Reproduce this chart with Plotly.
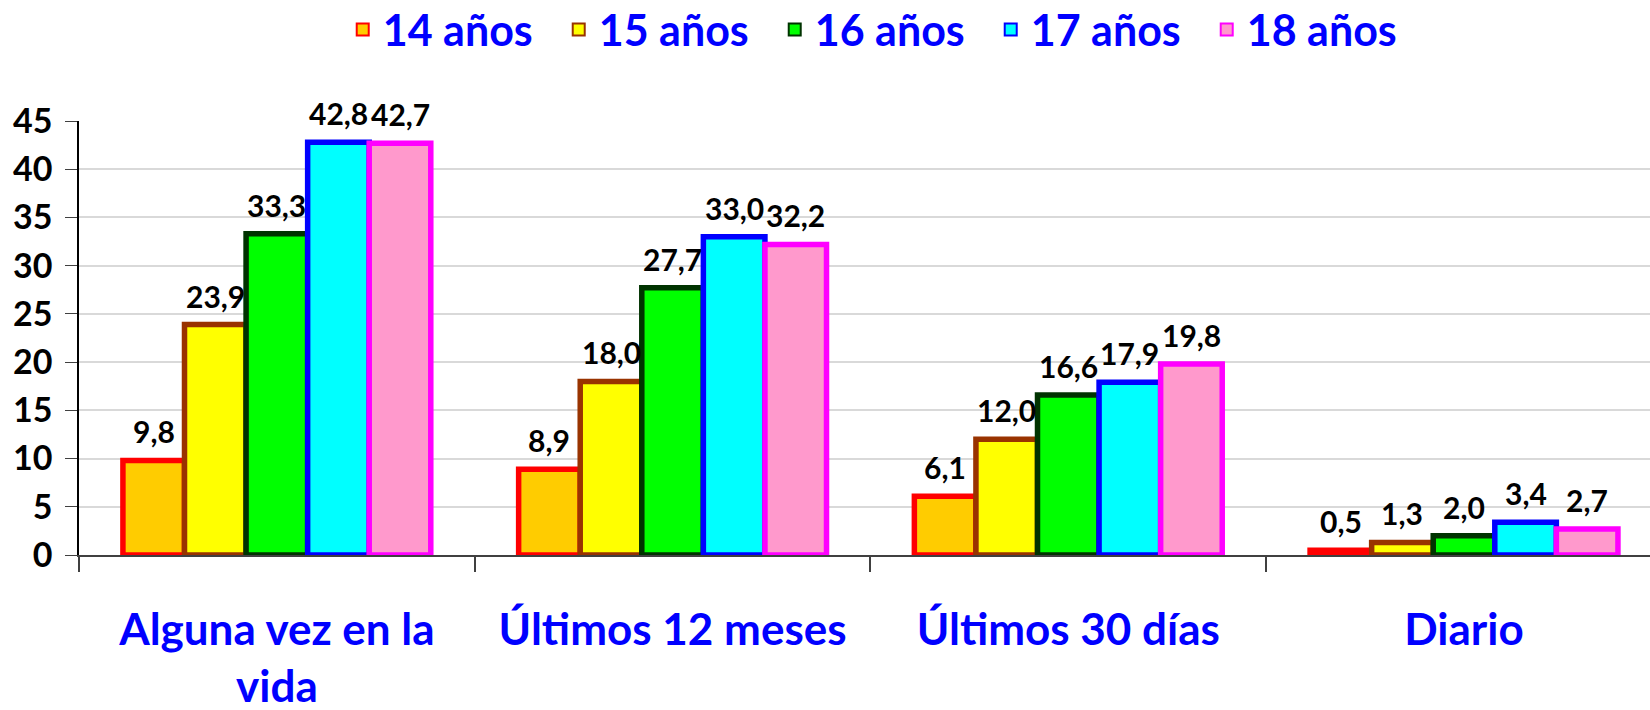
import plotly.graph_objects as go

categories = ["Alguna vez en la<br>vida", "Últimos 12 meses", "Últimos 30 días", "Diario"]
series_names = ["14 años", "15 años", "16 años", "17 años", "18 años"]
values_14 = [9.8, 8.9, 6.1, 0.5]
values_15 = [23.9, 18.0, 12.0, 1.3]
values_16 = [33.3, 27.7, 16.6, 2.0]
values_17 = [42.8, 33.0, 17.9, 3.4]
values_18 = [42.7, 32.2, 19.8, 2.7]
y_ticks = [0, 5, 10, 15, 20, 25, 30, 35, 40, 45]

series_values = [values_14, values_15, values_16, values_17, values_18]
fill_colors = ["#FFCC00", "#FFFF00", "#00FF00", "#00FFFF", "#FF99CC"]
line_colors = ["#FF0000", "#993300", "#003300", "#0000FF", "#FF00FF"]

FONT = "Lato"
BARGAP = 0.222

fig = go.Figure()
for name, vals, fc, lc in zip(series_names, series_values, fill_colors, line_colors):
    fig.add_trace(go.Bar(
        x=categories, y=vals, name=name,
        marker=dict(color=fc, line=dict(color=lc, width=5.5)),
    ))

n = len(series_names)
bw = (1 - BARGAP) / n
annotations = []
for i, vals in enumerate(series_values):
    for j, v in enumerate(vals):
        annotations.append(dict(
            x=j + (i - (n - 1) / 2) * bw, y=v, xref="x", yref="y",
            text=f"{v:.1f}".replace(".", ","), showarrow=False,
            yanchor="bottom", xanchor="center", yshift=9,
            font=dict(family=FONT, size=30, color="black", weight="bold"),
        ))

fig.update_layout(
    width=1650, height=710,
    margin=dict(l=79, r=0, t=121, b=155, autoexpand=False),
    paper_bgcolor="white", plot_bgcolor="white",
    barmode="group", bargap=BARGAP, bargroupgap=0,
    annotations=annotations,
    showlegend=True,
    legend=dict(
        orientation="h", x=0.5116, xanchor="center", y=1.29, yanchor="top",
        font=dict(family=FONT, size=43, color="#0000FF", weight="bold"),
        entrywidth=171, entrywidthmode="pixels",
        traceorder="normal", itemsizing="constant",
    ),
    xaxis=dict(
        type="category", range=[-0.5, 3.47],
        showline=True, linecolor="#404040", linewidth=1.5,
        ticks="outside", tickson="boundaries", ticklen=15, tickcolor="#404040", tickwidth=1.5,
        tickfont=dict(family=FONT, size=44, color="#0000FF", weight="bold"),
        ticklabelstandoff=35, showgrid=False, automargin=False,
    ),
    yaxis=dict(
        range=[0, 45], tickvals=y_ticks,
        showline=True, linecolor="black", linewidth=1.5,
        ticks="outside", ticklen=12, tickcolor="#404040",
        tickfont=dict(family=FONT, size=34, color="black", weight="bold"),
        ticklabelstandoff=6,
        showgrid=True, gridcolor="#D9D9D9", gridwidth=1.5, zeroline=False, automargin=False,
    ),
)

fig.write_html("out.html", config={"displayModeBar": False},
               post_script="document.body.style.margin='0px';")
